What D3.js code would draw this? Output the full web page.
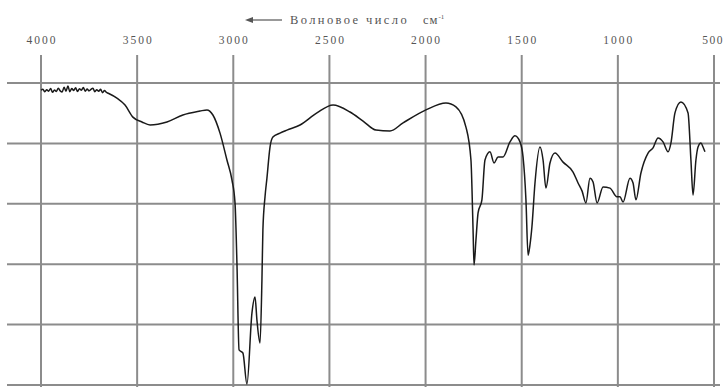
<!DOCTYPE html>
<html><head><meta charset="utf-8">
<script src="https://cdn.jsdelivr.net/npm/d3@7"></script>
<style>body{margin:0;background:#fff}svg{display:block}</style>
</head><body>
<svg id="c" width="726" height="387"></svg>
<script>
const xTicks = [4000, 3500, 3000, 2500, 2000, 1500, 1000, 500];
const yTicks = [0, 20, 40, 60, 80, 100];
const axisTitle = "Волновое число";
const unitLabel = "см";
const unitSup = "-1";
const wavenumber = [4000,3990,3980,3970,3960,3950,3940,3930,3920,3910,3900,3890,3880,3870,3860,3850,3840,3830,3820,3810,3800,3790,3780,3770,3760,3750,3740,3730,3720,3710,3700,3690,3680,3670,3660,3650,
3605,3563,3522,3475,3433,3345,3262,3173,3137,3106,3069,3033,3007,2991,2981,2970,2950,2929,2903,2887,2877,2861,2851,2846,2835,2825,2809,2794,2757,2721,2653,2565,2481,2393,2325,2258,2185,2117,1998,1894,1842,1790,1764,1753,1748,1738,1727,1707,1691,1665,1644,1623,1597,1561,1535,1509,1493,1478,1467,1457,1447,1431,1405,1389,1374,1353,1327,1285,1233,1207,1186,1166,1145,1129,1108,1077,1041,1005,989,973,937,921,906,880,843,817,791,765,739,724,703,672,635,620,609,594,583,568,557,547];
const transmittance = [97.6,97.9,97.1,97.8,97.3,98.2,96.9,97.7,97.2,98.3,97.4,97.0,98.6,97.3,99.0,97.1,98.2,97.5,98.4,97.2,98.1,97.6,98.5,97.3,98.0,97.4,97.9,98.3,97.1,97.8,97.3,97.9,96.8,97.5,96.9,96.6,
95.0,92.7,88.7,87.1,86.1,87.1,89.4,90.7,91.1,89.4,83.4,74.5,67.9,60.3,40.4,11.6,10.6,0.3,23.8,29.1,21.5,13.9,34.8,51.3,62.3,68.5,78.8,82.1,83.4,84.4,86.1,90.1,92.7,90.4,87.4,84.4,84.1,86.8,91.1,93.4,92.1,85.4,74.5,51.3,39.7,48.0,57.0,61.3,74.5,77.2,73.5,75.5,75.5,80.5,82.5,80.5,75.5,61.3,43.0,46.4,52.3,66.9,78.8,74.5,65.2,73.5,76.8,73.8,70.5,66.9,64.2,60.3,68.5,67.2,60.3,65.6,65.2,62.3,62.3,60.6,68.5,66.9,61.3,70.2,76.8,78.5,81.8,80.5,77.2,80.1,90.1,93.7,90.1,74.5,62.9,74.5,78.8,80.1,78.8,77.2];

const svg = d3.select("#c");
const x = d3.scaleLinear().domain([4000, 500]).range([41, 714]);
const y = d3.scaleLinear().domain([0, 100]).range([385, 83]);
const gridColor = "#8c8c8c";
const textColor = "#555";

svg.append("g").selectAll("line").data(yTicks).join("line")
  .attr("x1", 7).attr("x2", 720)
  .attr("y1", d => y(d)).attr("y2", d => y(d))
  .attr("stroke", gridColor).attr("stroke-width", 2);
svg.append("g").selectAll("line").data(xTicks).join("line")
  .attr("x1", d => x(d)).attr("x2", d => x(d))
  .attr("y1", 55).attr("y2", 387)
  .attr("stroke", gridColor).attr("stroke-width", 2);

svg.append("g").selectAll("text").data(xTicks).join("text")
  .attr("x", (d, i) => i === xTicks.length - 1 ? 724 : x(d))
  .attr("dx", (d, i) => i === xTicks.length - 1 ? 0 : 1)
  .attr("y", 44)
  .attr("text-anchor", (d, i) => i === xTicks.length - 1 ? "end" : "middle")
  .attr("font-family", "Liberation Serif, serif")
  .attr("font-size", 11.5).attr("letter-spacing", (d, i) => i === xTicks.length - 1 ? 1.5 : 2)
  .attr("fill", textColor)
  .text(d => d);

const tg = svg.append("g");
tg.append("line").attr("x1", 250).attr("x2", 282).attr("y1", 20).attr("y2", 20)
  .attr("stroke", textColor).attr("stroke-width", 1.2);
tg.append("path").attr("d", "M245,20 L253,17 L253,23 Z").attr("fill", textColor);
const t = tg.append("text").attr("x", 290).attr("y", 24)
  .attr("font-family", "Liberation Serif, serif").attr("font-size", 12.5)
  .attr("letter-spacing", 2.4).attr("fill", textColor);
t.append("tspan").text(axisTitle);
t.append("tspan").attr("x", 423).attr("letter-spacing", 1).text(unitLabel);
t.append("tspan").attr("dy", -5).attr("font-size", 7).attr("letter-spacing", 0).text(unitSup);

const pts = wavenumber.map((w, i) => [w, transmittance[i]]);
svg.append("path").datum(pts)
  .attr("fill", "none").attr("stroke", "#1a1a1a").attr("stroke-width", 1.5)
  .attr("stroke-linejoin", "round")
  .attr("d", d3.line().curve(d3.curveMonotoneX).x(d => x(d[0])).y(d => y(d[1])));
</script>
</body></html>
